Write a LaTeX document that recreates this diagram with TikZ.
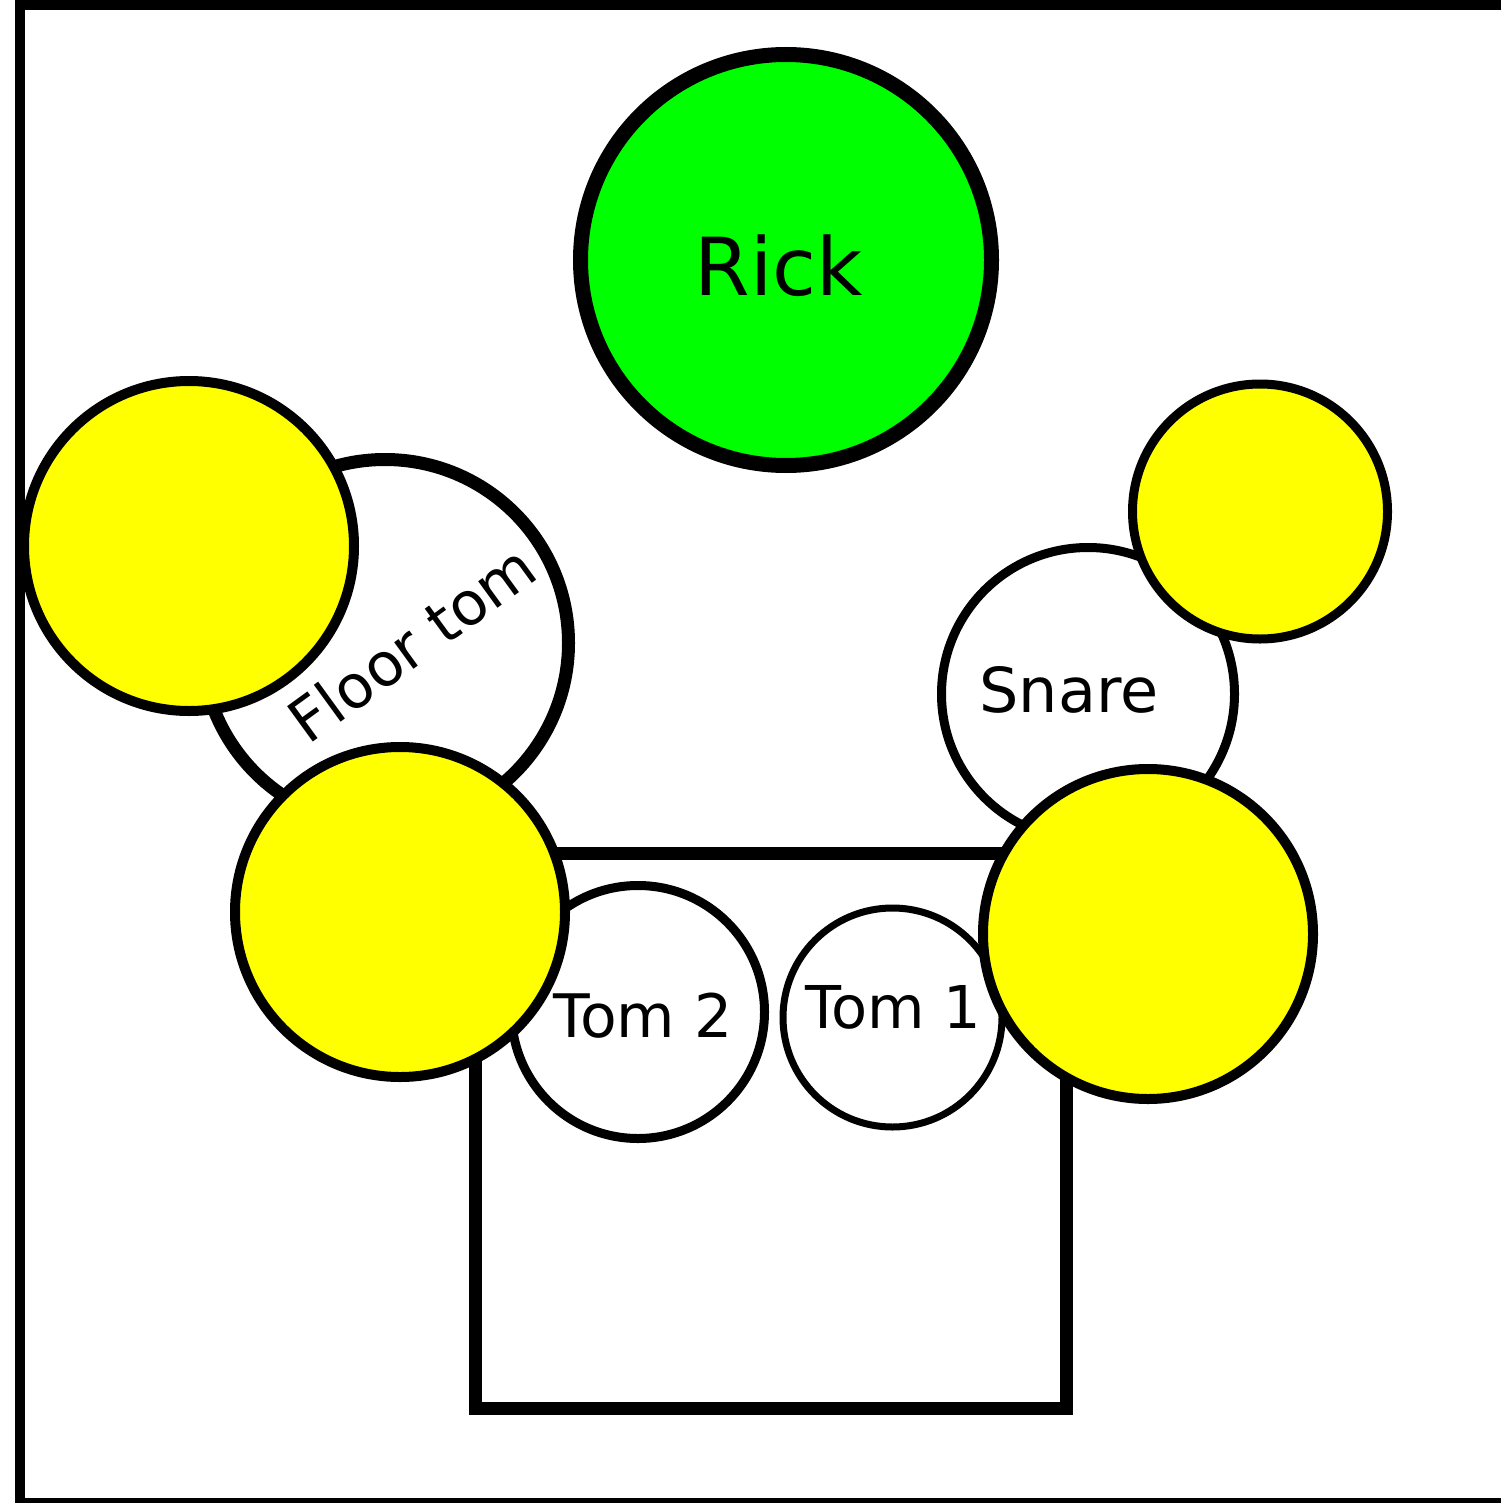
\documentclass[tikz,border=0pt]{standalone}
\usepackage{fontspec}
\setmainfont{DejaVu Sans}
\usepackage{xcolor}
\usetikzlibrary{positioning}

\definecolor{cymbalyellow}{RGB}{255,255,0}
\definecolor{rickgreen}{RGB}{0,255,0}

\begin{document}
\begin{tikzpicture}[x=0.5pt,y=0.5pt,yscale=-1,xscale=1,
	cymbal/.style={draw, fill=cymbalyellow, line width=5pt},
	drumshell/.style={draw, fill=white},
	drumtext/.style={anchor=base, inner sep=0.75pt}]
								\useasboundingbox (0,0) rectangle (1501,1503);
								
								%Shape: Frame
								\draw [line width=5pt] (1501,5) -- (20,5) -- (20,1503) -- (1501,1503) ;
								%Shape: Rectangle (rack)
								\draw [line width=6.5pt] (475,853) rectangle (1066,1408) ;
								%Shape: Circle (Rick)
								\draw [fill=rickgreen, line width=7.5pt] (786,260) circle (205.5) ;
								%Shape: Circle (floor tom)
								\draw [drumshell, line width=6.5pt] (385,643) circle (183.5) ;
								%Shape: Circle (snare)
								\draw [drumshell, line width=4.5pt] (1088,694) circle (146.5) ;
								%Shape: Circle (tom 2)
								\draw [drumshell, line width=4.5pt] (638,1012) circle (126.5) ;
								%Shape: Circle (tom 1)
								\draw [drumshell, line width=3.5pt] (892.5,1017.5) circle (109.5) ;
								%Shape: Circle (cymbals)
								\draw [cymbal] (189,546) circle (165) ;
								\draw [cymbal] (400,912) circle (165) ;
								\draw [cymbal, line width=4.5pt] (1260,511.5) circle (127.5) ;
								\draw [cymbal] (1148,934) circle (165) ;
								
								% Text Node
								\node [drumtext, font=\fontsize{40}{48}\selectfont] (rick) at (779,295) {Rick};
								% Text Node
								\node [drumtext, font=\fontsize{30}{36}\selectfont, rotate=36] (floortom) at (425,661) {Floor tom};
								% Text Node
								\node [drumtext, font=\fontsize{31}{37}\selectfont] (snare) at (1069,712) {Snare};
								% Text Node
								\node [drumtext, font=\fontsize{30}{36}\selectfont] (tomtwo) at (643,1037) {Tom 2};
								% Text Node
								\node [drumtext, font=\fontsize{29.5}{35}\selectfont] (tomone) at (893,1028) {Tom 1};
								
\end{tikzpicture}
\end{document}
